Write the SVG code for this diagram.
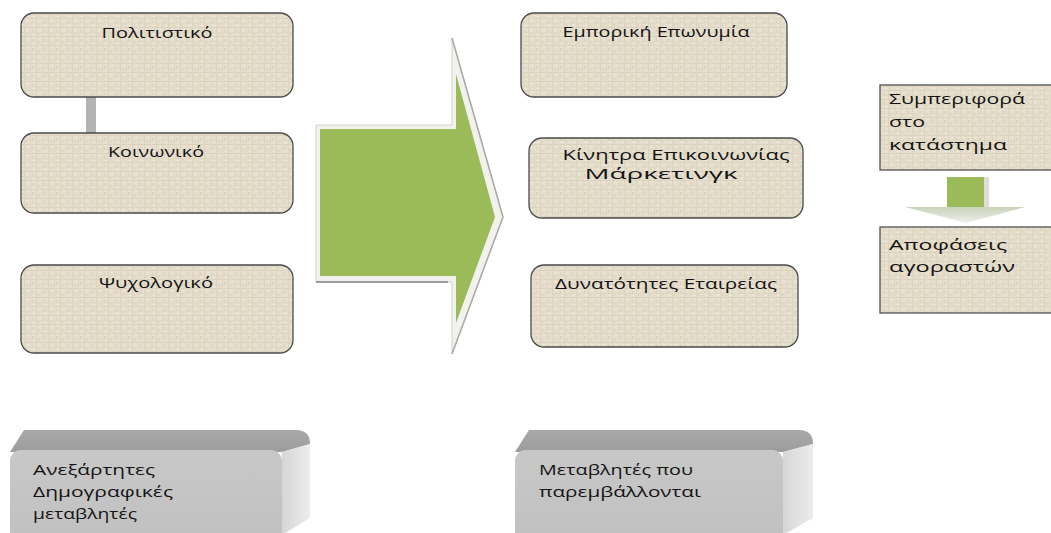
<svg xmlns="http://www.w3.org/2000/svg" width="1051" height="533" viewBox="0 0 1051 533">
<style>
text{font-family:"Open Sans","Noto Sans","DejaVu Sans",sans-serif;font-size:15px;fill:#141414}
.c{text-anchor:middle}
.linen{fill:url(#linen);stroke:#4a4a4a;stroke-width:1.3}
.sq{fill:url(#linen);stroke:#505050;stroke-width:1.3}
.t14{font-size:14px}
</style>
<defs>
<pattern id="linen" width="12" height="9" patternUnits="userSpaceOnUse">
<rect width="12" height="9" fill="#e6dfcd"/>
<rect x="0" y="0" width="12" height="1" fill="#dbd2be"/>
<rect x="0" y="5" width="12" height="1" fill="#e0d8c5"/>
<rect x="0" y="0" width="1" height="9" fill="#ddd4c0"/>
<rect x="6" y="0" width="1" height="9" fill="#e1d9c6"/>
<rect x="3" y="2" width="2" height="1" fill="#efe9db"/>
<rect x="9" y="7" width="2" height="1" fill="#efe9db"/>
<rect x="8" y="3" width="1" height="2" fill="#d6ccb7"/>
<rect x="2" y="6" width="1" height="2" fill="#d8cfba"/>
</pattern>
<linearGradient id="topFace" x1="0" y1="0" x2="0" y2="1">
<stop offset="0" stop-color="#a9a9a9"/>
<stop offset="1" stop-color="#9c9c9c"/>
</linearGradient>
<linearGradient id="sideFace" x1="0" y1="0" x2="1" y2="0">
<stop offset="0" stop-color="#d6d6d6"/>
<stop offset="1" stop-color="#ececec"/>
</linearGradient>
<linearGradient id="frontFace" x1="0" y1="0" x2="0" y2="1">
<stop offset="0" stop-color="#c8c8c8"/>
<stop offset="1" stop-color="#c0c0c0"/>
</linearGradient>
<linearGradient id="smallHead" x1="0" y1="0" x2="0" y2="1">
<stop offset="0" stop-color="#c9d3bb"/>
<stop offset="1" stop-color="#eef0ea"/>
</linearGradient>
</defs>
<rect width="1051" height="533" fill="#ffffff"/>

<g id="connectors">
<rect x="86" y="96" width="10" height="44" fill="#b3b3b3"/>
<g id="big-arrow">
<path d="M316,125 L452,125 L452,38 L503,217 L452,354 L452,282 L316,282 Z" fill="#f1f2ee" stroke="#cfd2c8" stroke-width="1"/>
<path d="M452,38 L503,217 L452,354" fill="none" stroke="#a9aaa4" stroke-width="1.5"/>
<line x1="316" y1="282" x2="448" y2="282" stroke="#9c9c9c" stroke-width="2"/>
<path d="M320,129 L456,129 L456,74 L495,217 L456,323 L456,276 L320,276 Z" fill="#9bbb59"/>
</g>
<g id="small-arrow">
<rect x="984" y="177" width="5" height="31" fill="#dcdcdc"/>
<rect x="947" y="177" width="37" height="31" fill="#9bbb59"/>
<path d="M905,207 L1025,207 L966,223 Z" fill="url(#smallHead)"/>
</g>
</g>

<g id="n-politistiko">
<rect class="linen" x="21" y="13" width="272" height="84" rx="13"/>
<text x="157" y="38" class="c" textLength="111" lengthAdjust="spacingAndGlyphs">Πολιτιστικό</text>
</g>
<g id="n-koinoniko">
<rect class="linen" x="21" y="133" width="272" height="80" rx="13"/>
<text x="156" y="157" class="c" textLength="96" lengthAdjust="spacingAndGlyphs">Κοινωνικό</text>
</g>
<g id="n-psychologiko">
<rect class="linen" x="21" y="265" width="272" height="88" rx="13"/>
<text x="156" y="288" class="c" textLength="114" lengthAdjust="spacingAndGlyphs">Ψυχολογικό</text>
</g>

<g id="n-emporiki">
<rect class="linen" x="521" y="13" width="266" height="84" rx="13"/>
<text x="656" y="37" class="c" textLength="187" lengthAdjust="spacingAndGlyphs">Εμπορική Επωνυμία</text>
</g>
<g id="n-kinitra">
<rect class="linen" x="529" y="138" width="274" height="80" rx="13"/>
<text x="676" y="160" class="c t14" textLength="227" lengthAdjust="spacingAndGlyphs">Κίνητρα Επικοινωνίας</text>
<text x="661" y="179" class="c t14" textLength="153" lengthAdjust="spacingAndGlyphs">Μάρκετινγκ</text>
</g>
<g id="n-dynatotites">
<rect class="linen" x="531" y="265" width="267" height="82" rx="13"/>
<text x="666" y="289" class="c" textLength="222" lengthAdjust="spacingAndGlyphs">Δυνατότητες Εταιρείας</text>
</g>

<g id="n-symperifora">
<rect class="sq" x="880" y="85" width="175" height="85"/>
<text x="889" y="104" textLength="136" lengthAdjust="spacingAndGlyphs">Συμπεριφορά</text>
<text x="889" y="127" textLength="36" lengthAdjust="spacingAndGlyphs">στο</text>
<text x="889" y="150" textLength="118" lengthAdjust="spacingAndGlyphs">κατάστημα</text>
</g>
<g id="n-apofaseis">
<rect class="sq" x="880" y="227" width="175" height="86"/>
<text x="889" y="250" textLength="118" lengthAdjust="spacingAndGlyphs">Αποφάσεις</text>
<text x="889" y="272" textLength="126" lengthAdjust="spacingAndGlyphs">αγοραστών</text>
</g>

<g id="n-anexartites">
<path d="M10,452 L24,430 L296,430 Q310,430 310,444 L282,452 Z" fill="url(#topFace)"/>
<path d="M282,452 L310,444 L310,518 L282,535 Z" fill="url(#sideFace)"/>
<rect x="10" y="450" width="272" height="95" rx="11" fill="url(#frontFace)"/>
<text x="33" y="475" textLength="122" lengthAdjust="spacingAndGlyphs">Ανεξάρτητες</text>
<text x="33" y="497" textLength="140" lengthAdjust="spacingAndGlyphs">Δημογραφικές</text>
<text x="33" y="519" textLength="104" lengthAdjust="spacingAndGlyphs">μεταβλητές</text>
</g>
<g id="n-metavlites">
<path d="M515,452 L529,430 L799,430 Q813,430 813,444 L783,452 Z" fill="url(#topFace)"/>
<path d="M783,452 L813,444 L813,518 L783,535 Z" fill="url(#sideFace)"/>
<rect x="515" y="450" width="268" height="95" rx="11" fill="url(#frontFace)"/>
<text x="539" y="475" textLength="154" lengthAdjust="spacingAndGlyphs">Μεταβλητές που</text>
<text x="539" y="497" textLength="162" lengthAdjust="spacingAndGlyphs">παρεμβάλλονται</text>
</g>
</svg>
